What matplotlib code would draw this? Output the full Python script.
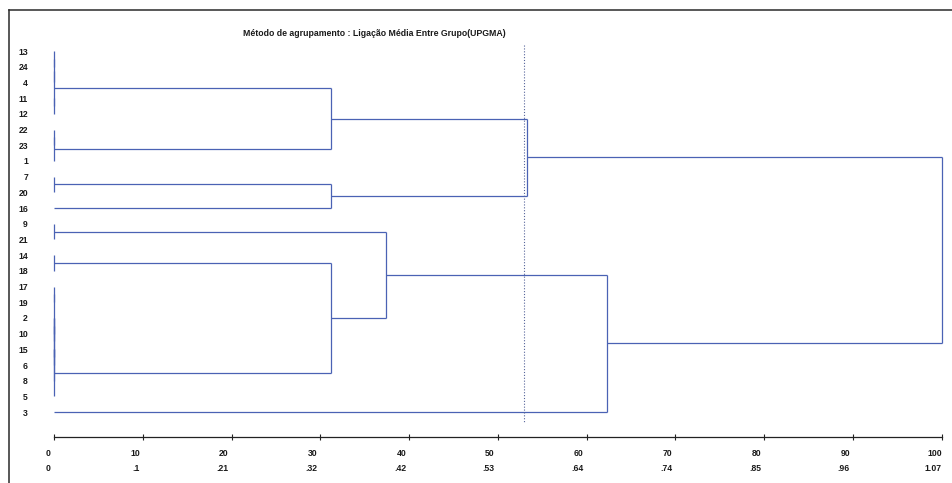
import matplotlib
matplotlib.use("Agg")
import matplotlib.pyplot as plt
from matplotlib.lines import Line2D
from matplotlib.transforms import ScaledTranslation

# leaves in dendrogram order (top to bottom)
leaf_labels = ['13', '24', '4', '11', '12', '22', '23', '1', '7', '20', '16',
               '9', '21', '14', '18', '17', '19', '2', '10', '15', '6', '8',
               '5', '3']

# merges: (child a, child b, rescaled distance 0-100)
# children < 24 are leaves, others are earlier merges (id = 24 + row)
merges = [
    (0, 1, 0), (24, 2, 0), (3, 4, 0), (25, 26, 0),
    (5, 6, 0), (28, 7, 0), (27, 29, 31.2),
    (8, 9, 0), (31, 10, 31.2), (30, 32, 53.3),
    (11, 12, 0), (13, 14, 0),
    (15, 16, 0), (17, 18, 0), (19, 20, 0), (37, 38, 0), (36, 39, 0),
    (40, 21, 0), (41, 22, 0), (35, 42, 31.2),
    (34, 43, 37.4), (44, 23, 62.3), (33, 45, 100.0),
]

cut_level = 52.9

scale_ticks = [0, 10, 20, 30, 40, 50, 60, 70, 80, 90, 100]
dist_labels = ['0', '.1', '.21', '.32', '.42', '.53', '.64', '.74', '.85',
               '.96', '1.07']

LINE = '#4a62b4'
TXT = '#1a1a1a'
plt.rcParams['font.family'] = ['Liberation Sans', 'DejaVu Sans']


def main():
    W, H = 953, 483
    fig = plt.figure(figsize=(W / 100, H / 100), dpi=100)
    left_px = 30
    ax = fig.add_axes([left_px / W, 0, 1 - left_px / W, 1])

    # pixel layout: x=0 at 54px, x=100 at 941.7px; leaf i at 51 + 15.7*i
    xs = (941.7 - 54) / 100
    ax.set_xlim((left_px - 54) / xs, (W - 54) / xs)
    ax.set_ylim((H - 51) / 15.7, -51 / 15.7)

    n = len(leaf_labels)
    pos = {i: float(i) for i in range(n)}
    height = {i: 0.0 for i in range(n)}
    for k, (a, b, d) in enumerate(merges):
        node = n + k
        for c in (a, b):
            ax.plot([height[c], d], [pos[c], pos[c]], color=LINE, lw=0.9,
                    solid_capstyle='butt')
        ax.plot([d, d], [pos[a], pos[b]], color=LINE, lw=0.9,
                solid_capstyle='butt')
        pos[node] = (pos[a] + pos[b]) / 2
        height[node] = d

    # dotted cut line
    ax.plot([cut_level, cut_level], [-0.4, 23.7], color='#55649a', lw=0.8,
            linestyle=(0, (1, 1.6)))

    for side in ('top', 'right', 'left'):
        ax.spines[side].set_visible(False)
    ax.spines['bottom'].set_position(('data', (437 - 51) / 15.7))
    ax.spines['bottom'].set_bounds(0, 100)
    ax.spines['bottom'].set_color('#222222')
    ax.spines['bottom'].set_linewidth(0.9)

    ax.set_yticks(range(n))
    ax.set_yticklabels(leaf_labels, fontsize=6.2, fontweight='bold',
                       color=TXT)
    ax.tick_params(axis='y', length=0, pad=1.5)

    ax.set_xticks(scale_ticks)
    ax.set_xticklabels([f"{s}\n{d}" for s, d in zip(scale_ticks, dist_labels)],
                       fontsize=6.2, fontweight='bold', color=TXT,
                       ha='right', linespacing=1.9)
    ax.tick_params(axis='x', direction='inout', length=5, width=0.8,
                   color='#222222', pad=6)
    shift = ScaledTranslation(-3 / 100, 0, fig.dpi_scale_trans)
    for lab in ax.get_xticklabels()[:-1]:
        lab.set_transform(lab.get_transform() + shift)

    fig.text(243 / W, 1 - 34 / H,
             'Método de agrupamento : Ligação Média Entre Grupo(UPGMA)',
             fontsize=6.3, fontweight='bold', color=TXT, ha='left',
             va='center')

    # outer frame (left and top)
    fig.add_artist(Line2D([9 / W, 9 / W], [0, 1 - 10 / H],
                          transform=fig.transFigure, color='#2a2a2a', lw=1.1))
    fig.add_artist(Line2D([9 / W, 1], [1 - 10 / H, 1 - 10 / H],
                          transform=fig.transFigure, color='#2a2a2a', lw=1.1))

    fig.savefig('out.png', dpi=100)


if __name__ == "__main__":
    main()
